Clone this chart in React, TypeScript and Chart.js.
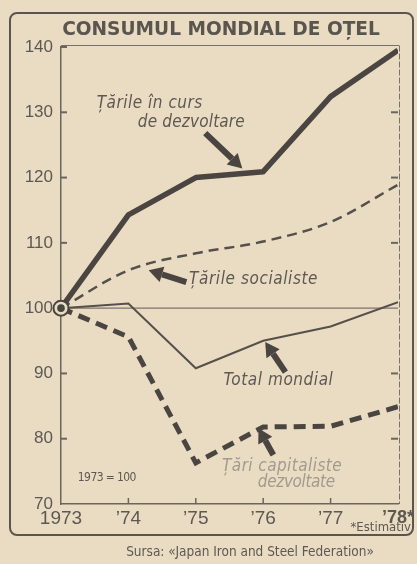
import React, { useEffect, useRef } from "react";
import { Chart, registerables } from "chart.js";

Chart.register(...registerables);

const years = [1973, 1974, 1975, 1976, 1977, 1978];
const xTickLabels = ["1973", "\u201974", "\u201975", "\u201976", "\u201977", "\u201978*"];
const developing = [100, 114.3, 120, 120.9, 132.4, 139.5];
const socialist = [100, 105.8, 108.4, 110.2, 113.2, 118.9];
const worldTotal = [100, 100.7, 90.8, 95, 97.2, 100.9];
const capitalist = [100, 95.6, 76.3, 81.8, 81.9, 84.9];
const baseline = [100, 100, 100, 100, 100, 100];

const titleText = "CONSUMUL MONDIAL DE OȚEL";
const sourceText = "Sursa: «Japan Iron and Steel Federation»";
const noteText = "*Estimativ";
const baseText = "1973 = 100";

const INK = "#4a4540";
const TEXT = "#5d5852";
const BG = "#eadcc3";

type Arrow = { from: [number, number]; to: [number, number] };
type Label = { lines: string[]; pos: number[][]; widths: number[] };
const labelDeveloping: Label = { lines: ["Țările în curs", "de dezvoltare"], pos: [[1973.53, 131.4], [1974.14, 128.5]], widths: [106, 107] };
const labelSocialist: Label = { lines: ["Țările socialiste"], pos: [[1974.9, 104.3]], widths: [129] };
const labelTotal: Label = { lines: ["Total mondial"], pos: [[1975.41, 88.9]], widths: [110] };
const labelCapitalist: Label = { lines: ["Țări capitaliste", "dezvoltate"], pos: [[1975.39, 75.7], [1975.92, 73.3]], widths: [120, 77] };
const arrows: Arrow[] = [
  { from: [1975.14, 126.8], to: [1975.69, 121.4] },
  { from: [1974.86, 104.0], to: [1974.3, 105.8] },
  { from: [1976.33, 90.2], to: [1976.03, 94.8] },
  { from: [1976.15, 77.5], to: [1975.93, 81.6] },
];

function drawArrow(ctx: CanvasRenderingContext2D, x1: number, y1: number, x2: number, y2: number) {
  const ang = Math.atan2(y2 - y1, x2 - x1);
  const head = 14;
  const hw = 8;
  const bx = x2 - Math.cos(ang) * head;
  const by = y2 - Math.sin(ang) * head;
  ctx.save();
  ctx.strokeStyle = INK;
  ctx.fillStyle = INK;
  ctx.lineWidth = 6;
  ctx.lineCap = "butt";
  ctx.beginPath();
  ctx.moveTo(x1, y1);
  ctx.lineTo(bx, by);
  ctx.stroke();
  ctx.beginPath();
  ctx.moveTo(x2, y2);
  ctx.lineTo(bx + Math.cos(ang + Math.PI / 2) * hw, by + Math.sin(ang + Math.PI / 2) * hw);
  ctx.lineTo(bx + Math.cos(ang - Math.PI / 2) * hw, by + Math.sin(ang - Math.PI / 2) * hw);
  ctx.closePath();
  ctx.fill();
  ctx.restore();
}

function fitText(ctx: CanvasRenderingContext2D, text: string, x: number, y: number, target: number) {
  const c = ctx as any;
  c.letterSpacing = "0px";
  const m = ctx.measureText(text).width;
  const n = Math.max(1, [...text].length);
  const ls = Math.max(-1, Math.min(2, (target - m) / n));
  c.letterSpacing = `${ls.toFixed(2)}px`;
  ctx.fillText(text, x, y);
  c.letterSpacing = "0px";
}

const decorPlugin = {
  id: "decor",
  beforeDraw(chart: any) {
    const ctx = chart.ctx as CanvasRenderingContext2D;
    ctx.save();
    ctx.fillStyle = BG;
    ctx.fillRect(0, 0, chart.width, chart.height);
    ctx.strokeStyle = "#5a554f";
    ctx.lineWidth = 2;
    ctx.beginPath();
    (ctx as any).roundRect(10, 13, 403, 522, 7);
    ctx.stroke();
    ctx.restore();
  },
  afterDatasetsDraw(chart: any) {
    const ctx = chart.ctx as CanvasRenderingContext2D;
    const xs = chart.scales.x;
    const ys = chart.scales.y;
    const { left, right, top, bottom } = chart.chartArea;
    ctx.save();
    ctx.strokeStyle = "#77716a";
    ctx.lineWidth = 1;
    ctx.beginPath();
    ctx.moveTo(left, top - 1.5);
    ctx.lineTo(right + 1, top - 1.5);
    ctx.stroke();
    ctx.setLineDash([6, 2]);
    ctx.beginPath();
    ctx.moveTo(right + 1.5, top - 1.5);
    ctx.lineTo(right + 1.5, bottom);
    ctx.stroke();
    ctx.setLineDash([]);
    ctx.strokeStyle = "#6b655e";
    ctx.lineWidth = 2;
    for (let v = 80; v <= 140; v += 10) {
      if (v === 100) continue;
      const y = ys.getPixelForValue(v);
      ctx.beginPath();
      ctx.moveTo(left, y);
      ctx.lineTo(left + 6, y);
      ctx.stroke();
      if (v < 140) {
        ctx.beginPath();
        ctx.moveTo(right - 7, y);
        ctx.lineTo(right, y);
        ctx.stroke();
      }
    }
    ctx.lineWidth = 1.5;
    for (let i = 1; i < years.length - 1; i++) {
      const x = xs.getPixelForValue(years[i]);
      ctx.beginPath();
      ctx.moveTo(x, bottom);
      ctx.lineTo(x, bottom - 6);
      ctx.stroke();
    }
    const mx = xs.getPixelForValue(years[0]);
    const my = ys.getPixelForValue(developing[0]);
    ctx.fillStyle = BG;
    ctx.beginPath();
    ctx.arc(mx, my, 7.5, 0, Math.PI * 2);
    ctx.fill();
    ctx.strokeStyle = INK;
    ctx.lineWidth = 2;
    ctx.stroke();
    ctx.fillStyle = INK;
    ctx.beginPath();
    ctx.arc(mx, my, 3.8, 0, Math.PI * 2);
    ctx.fill();

    ctx.fillStyle = "#5a554f";
    ctx.textBaseline = "middle";
    ctx.textAlign = "center";
    let fs = 17;
    ctx.font = `bold ${fs}px "DejaVu Sans", sans-serif`;
    const w = ctx.measureText(titleText).width;
    fs = (fs * 318) / w;
    ctx.font = `bold ${fs.toFixed(2)}px "DejaVu Sans", sans-serif`;
    ctx.fillText(titleText, 221, 30);

    const italic = 'italic 17px "DejaVu Sans Condensed", "Liberation Sans Narrow", sans-serif';
    ctx.textAlign = "left";
    const drawLabel = (lab: Label, color: string) => {
      ctx.fillStyle = color;
      ctx.font = italic;
      lab.lines.forEach((t, i) => {
        fitText(ctx, t, xs.getPixelForValue(lab.pos[i][0]), ys.getPixelForValue(lab.pos[i][1]), lab.widths[i]);
      });
    };
    drawLabel(labelDeveloping, TEXT);
    drawLabel(labelSocialist, TEXT);
    drawLabel(labelTotal, TEXT);
    drawLabel(labelCapitalist, "#a29a8f");
    arrows.forEach((a) => {
      drawArrow(
        ctx,
        xs.getPixelForValue(a.from[0]),
        ys.getPixelForValue(a.from[1]),
        xs.getPixelForValue(a.to[0]),
        ys.getPixelForValue(a.to[1])
      );
    });
    ctx.fillStyle = TEXT;
    ctx.font = '12px "DejaVu Sans Condensed", "Liberation Sans Narrow", sans-serif';
    fitText(ctx, baseText, xs.getPixelForValue(1973.25), ys.getPixelForValue(74), 58);
    ctx.font = '13px "DejaVu Sans Condensed", "DejaVu Sans", sans-serif';
    ctx.textAlign = "right";
    ctx.fillText(noteText, 411, 528);
    ctx.textAlign = "center";
    ctx.font = '13.5px "DejaVu Sans Condensed", "DejaVu Sans", sans-serif';
    ctx.fillText(sourceText, 250, 552);
    ctx.restore();
  },
};

export default function App() {
  const ref = useRef<HTMLCanvasElement | null>(null);
  useEffect(() => {
    document.body.style.margin = "0";
    const canvas = ref.current!;
    const mk = (arr: number[]) => years.map((x, i) => ({ x, y: arr[i] }));
    const chart = new Chart(canvas, {
      type: "line",
      data: {
        datasets: [
          { label: "Țările în curs de dezvoltare", data: mk(developing), borderColor: INK, borderWidth: 5.5, pointRadius: 0, borderJoinStyle: "round" },
          { label: "Țări capitaliste dezvoltate", data: mk(capitalist), borderColor: INK, borderWidth: 5, borderDash: [12, 7], pointRadius: 0 },
          { label: "Total mondial", data: mk(worldTotal), borderColor: "#55504a", borderWidth: 2, pointRadius: 0 },
          { label: "Țările socialiste", data: mk(socialist), borderColor: "#55504a", borderWidth: 2.5, borderDash: [10, 6], pointRadius: 0, cubicInterpolationMode: "monotone" },
          { label: "baseline", data: mk(baseline), borderColor: "#7a746c", borderWidth: 1.2, pointRadius: 0 },
        ],
      } as any,
      options: {
        animation: false,
        responsive: false,
        devicePixelRatio: 1,
        layout: { padding: { left: 0, right: 19, top: 47, bottom: 30 } },
        plugins: { legend: { display: false }, tooltip: { enabled: false }, title: { display: false } },
        scales: {
          x: {
            type: "linear",
            min: 1973,
            max: 1978,
            grid: { display: false, drawTicks: false },
            border: { display: true, color: "#6b655e", width: 1.5 },
            afterBuildTicks: (s: any) => {
              s.ticks = years.map((v) => ({ value: v }));
            },
            afterFit: (s: any) => {
              s.height = 30;
              s.paddingLeft = 0;
              s.paddingRight = 0;
            },
            ticks: {
              autoSkip: false,
              maxRotation: 0,
              padding: 3,
              color: TEXT,
              font: (c: any) => ({ family: '"Liberation Sans", Arial, sans-serif', size: c.index === 5 ? 18 : 19, weight: c.index === 5 ? "bold" : "normal" }),
              callback: (_v: any, i: number) => xTickLabels[i],
            },
          },
          y: {
            min: 70,
            max: 140,
            grid: { display: false, drawTicks: false },
            border: { display: true, color: "#6b655e", width: 1.5 },
            afterFit: (s: any) => {
              s.width = 61;
              s.paddingTop = 0;
              s.paddingBottom = 0;
            },
            ticks: {
              stepSize: 10,
              padding: 8,
              color: TEXT,
              font: { family: '"Liberation Sans", Arial, sans-serif', size: 17 },
            },
          },
        },
      } as any,
      plugins: [decorPlugin],
    });
    return () => chart.destroy();
  }, []);
  return <canvas ref={ref} width={417} height={564} style={{ display: "block", width: 417, height: 564 }} />;
}
